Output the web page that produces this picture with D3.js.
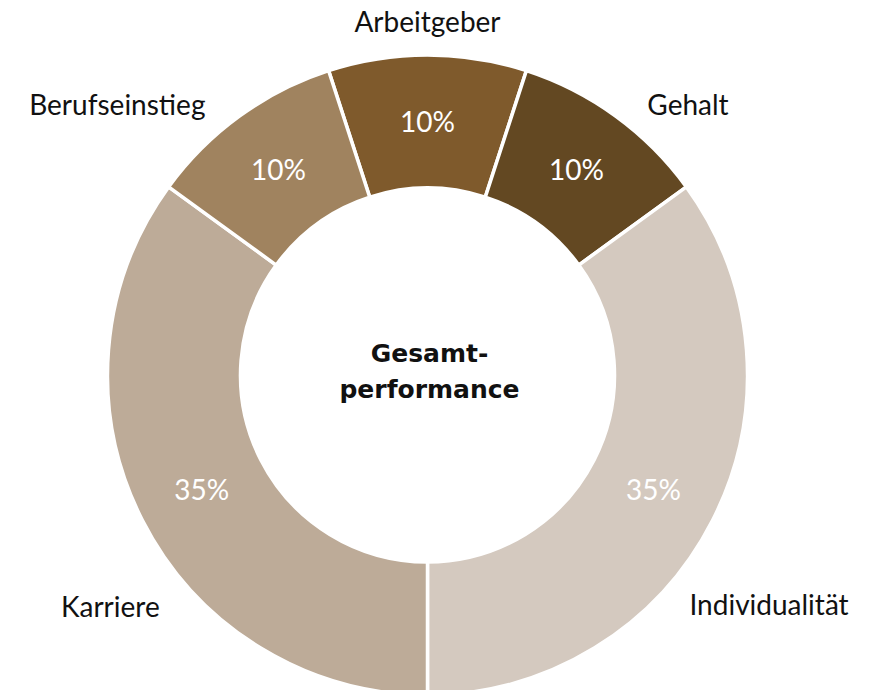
<!DOCTYPE html>
<html>
<head>
<meta charset="utf-8">
<script src="https://cdn.jsdelivr.net/npm/d3@7"></script>
<style>
  body { margin: 0; background: #fff; }
  svg { display: block; }
</style>
</head>
<body>
<div id="chart"></div>
<script>
/**
 * DATA
 * */
const categories = ["Arbeitgeber", "Gehalt", "Individualität", "Karriere", "Berufseinstieg"];
const shares = [10, 10, 35, 35, 10];
const colors = ["#7f5a2c", "#634822", "#d4c9bf", "#bdab98", "#a0835f"];
const centerLines = ["Gesamt-", "performance"];

// where the category names sit: angle (deg, clockwise from top) and distance from centre
const nameOrder = ["Arbeitgeber", "Gehalt", "Berufseinstieg", "Karriere", "Individualität"];
const namePlacement = [
  { angle: 0, dist: 353 },
  { angle: 44, dist: 375 },
  { angle: -49, dist: 411 },
  { angle: 233.8, dist: 393 },
  { angle: 124, dist: 412 },
];

/**
 * CONSTANTS
 * */
const width = 869,
  height = 690,
  cx = 427.5,
  cy = 375,
  outerR = 320,
  innerR = 187;

const svg = d3.select("#chart")
  .append("svg")
  .attr("width", width)
  .attr("height", height);

const g = svg.append("g").attr("transform", `translate(${cx},${cy})`);

const data = categories.map((c, i) => ({ name: c, value: shares[i], color: colors[i] }));

const pie = d3.pie()
  .value(d => d.value)
  .sort(null)
  .startAngle(-Math.PI * 0.1)
  .endAngle(Math.PI * 1.9);

const arc = d3.arc().innerRadius(innerR).outerRadius(outerR);

const arcs = pie(data);

g.selectAll("path.slice")
  .data(arcs)
  .join("path")
  .attr("class", "slice")
  .attr("d", arc)
  .attr("fill", d => d.data.color)
  .attr("stroke", "#fff")
  .attr("stroke-width", 3.5);

// percentages inside the ring
g.selectAll("text.pct")
  .data(arcs)
  .join("text")
  .attr("class", "pct")
  .attr("transform", d => `translate(${arc.centroid(d)})`)
  .attr("text-anchor", "middle")
  .attr("dy", "0.36em")
  .attr("font-family", "Lato, sans-serif")
  .attr("font-size", 28)
  .attr("fill", "#fff")
  .text(d => d.data.value + "%");

// category names around the ring
g.selectAll("text.name")
  .data(arcs)
  .join("text")
  .attr("class", "name")
  .attr("transform", d => {
    const p = namePlacement[nameOrder.indexOf(d.data.name)];
    const a = p.angle * Math.PI / 180;
    return `translate(${Math.sin(a) * p.dist},${-Math.cos(a) * p.dist})`;
  })
  .attr("text-anchor", "middle")
  .attr("dy", "0.36em")
  .attr("font-family", "Lato, sans-serif")
  .attr("font-size", 28)
  .attr("fill", "#111")
  .text(d => d.data.name);

// centre title
g.append("text")
  .attr("text-anchor", "middle")
  .attr("font-family", "'DejaVu Sans', sans-serif")
  .attr("font-weight", "bold")
  .attr("font-size", 25)
  .attr("fill", "#111")
  .selectAll("tspan")
  .data(centerLines)
  .join("tspan")
  .attr("x", 2)
  .attr("y", (d, i) => -13 + i * 36)
  .text(d => d);
</script>
</body>
</html>
